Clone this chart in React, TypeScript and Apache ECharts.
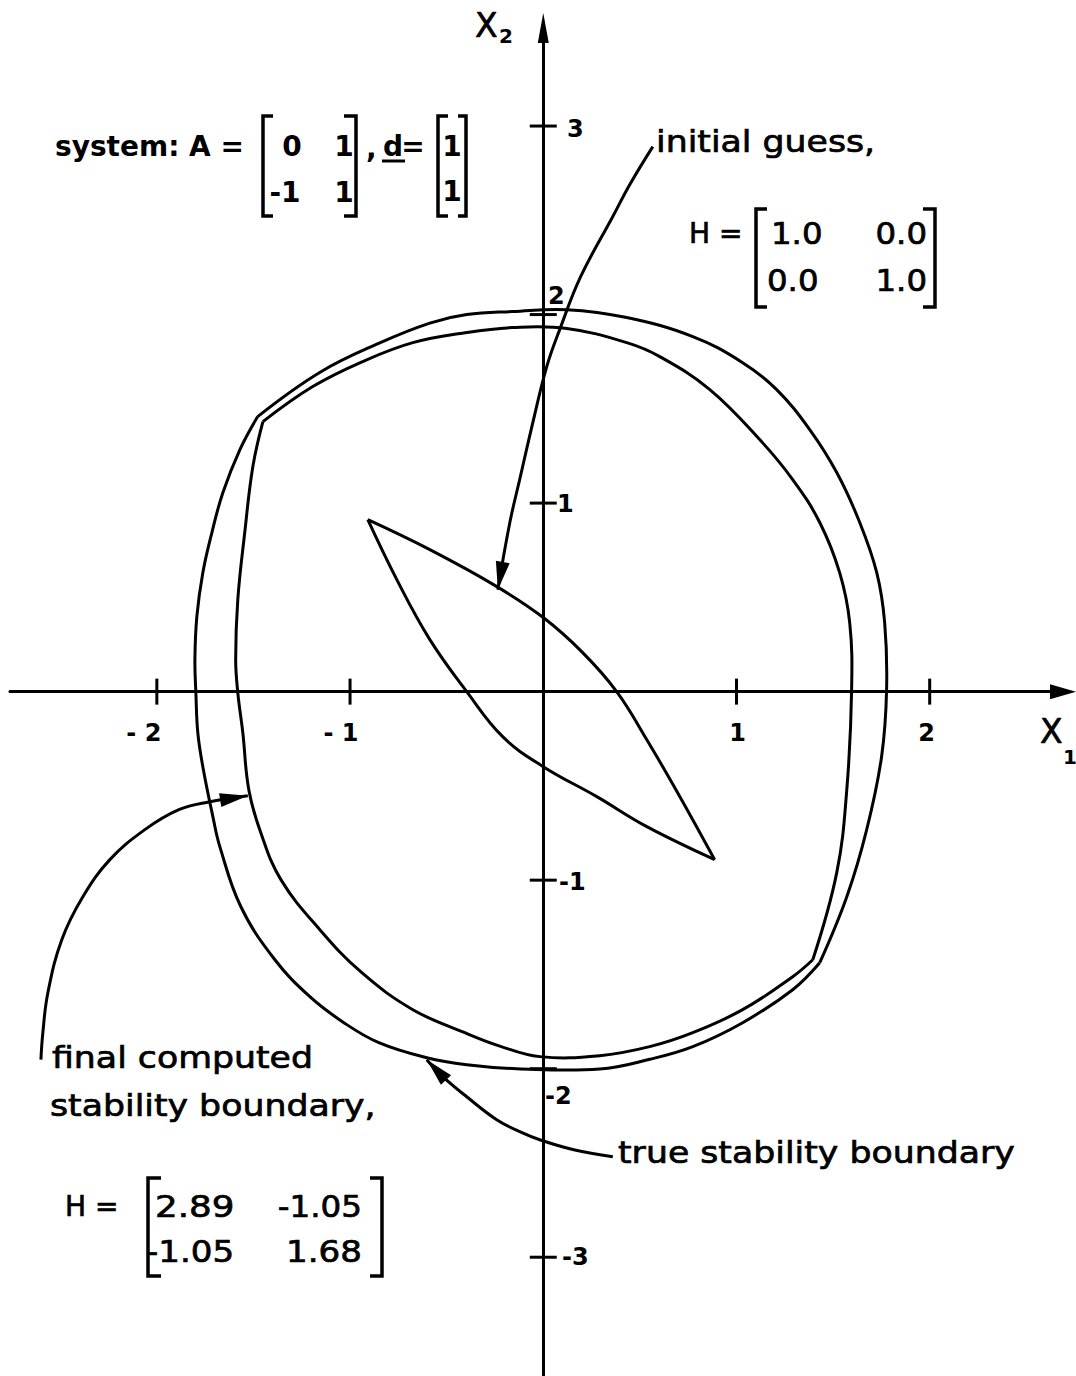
import React, { useEffect, useRef } from "react";
import * as echarts from "echarts";

type Pt = [number, number];

// Axis extents in state-space units
const X_MIN = -2.76;
const X_MAX = 2.69;
const Y_MIN = -3.63;
const Y_MAX = 3.52;

// Tick marks and their labels
const xTicks = [-2, -1, 1, 2];
const xTickLabels = ["- 2", "- 1", "1", "2"];
const yTicks = [3, 2, 1, -1, -2, -3];
const yTickLabels = ["3", "2", "1", "-1", "-2", "-3"];

// True stability boundary, split at its two corners
const trueBoundaryUpper: Pt[] = [
  [1.431, -1.438], [1.571, -1.088], [1.674, -0.732], [1.751, -0.345], [1.777, 0.011],
  [1.767, 0.366], [1.726, 0.631], [1.638, 0.897], [1.519, 1.162], [1.379, 1.39],
  [1.208, 1.602], [1.032, 1.745], [0.774, 1.883], [0.432, 1.984], [0.122, 2.026],
  [-0.158, 2.016], [-0.396, 2.0], [-0.587, 1.955], [-0.846, 1.85], [-1.157, 1.693],
  [-1.478, 1.459],
];
const trueBoundaryLower: Pt[] = [
  [-1.478, 1.459], [-1.57, 1.284], [-1.658, 1.056], [-1.715, 0.844], [-1.762, 0.631],
  [-1.793, 0.398], [-1.803, 0.17], [-1.798, -0.005], [-1.788, -0.218], [-1.762, -0.398],
  [-1.71, -0.663], [-1.674, -0.822], [-1.565, -1.141], [-1.389, -1.422], [-1.208, -1.618],
  [-1.032, -1.756], [-0.851, -1.862], [-0.603, -1.942], [-0.396, -1.979], [-0.137, -2.0],
  [0.292, -2.002], [0.551, -1.95], [0.774, -1.883], [1.032, -1.756], [1.291, -1.581],
  [1.431, -1.438],
];

// Final computed stability boundary, split at its two corners
const computedBoundaryUpper: Pt[] = [
  [1.395, -1.422], [1.519, -0.96], [1.571, -0.52], [1.596, 0.011], [1.586, 0.366],
  [1.534, 0.631], [1.431, 0.897], [1.291, 1.125], [1.12, 1.337], [0.862, 1.602],
  [0.603, 1.777], [0.432, 1.851], [0.122, 1.926], [-0.158, 1.931], [-0.396, 1.905],
  [-0.675, 1.851], [-0.934, 1.751], [-1.193, 1.618], [-1.451, 1.432],
];
const computedBoundaryLower: Pt[] = [
  [-1.451, 1.432], [-1.503, 1.194], [-1.545, 0.844], [-1.581, 0.488], [-1.592, 0.17],
  [-1.581, -0.005], [-1.555, -0.218], [-1.524, -0.52], [-1.462, -0.748], [-1.358, -0.997],
  [-1.156, -1.263], [-0.939, -1.491], [-0.675, -1.687], [-0.406, -1.809], [-0.225, -1.88],
  [-0.018, -1.936], [0.292, -1.931], [0.551, -1.883], [0.774, -1.809], [1.032, -1.687],
  [1.291, -1.512], [1.395, -1.422],
];

// Initial guess region (H = I), two arcs between its corners
const initialGuessUpper: Pt[] = [
  [-0.908, 0.912], [-0.587, 0.753], [-0.24, 0.557], [0, 0.393], [0.204, 0.207],
  [0.38, 0], [0.536, -0.255], [0.707, -0.557], [0.887, -0.891],
];
const initialGuessLower: Pt[] = [
  [-0.908, 0.912], [-0.758, 0.594], [-0.587, 0.276], [-0.396, 0], [-0.21, -0.239],
  [0, -0.398], [0.277, -0.557], [0.536, -0.716], [0.887, -0.891],
];

// Leader arrows (from label to tip)
const initialGuessArrow: Pt[] = [
  [0.567, 2.891], [0.448, 2.69], [0.36, 2.52], [0.194, 2.202], [0.085, 1.92],
  [0.018, 1.724], [-0.054, 1.427], [-0.122, 1.125], [-0.173, 0.897], [-0.235, 0.541],
];
const computedArrow: Pt[] = [
  [-2.6, -1.952], [-2.59, -1.809], [-2.564, -1.597], [-2.492, -1.316], [-2.383, -1.088],
  [-2.243, -0.891], [-2.062, -0.732], [-1.886, -0.626], [-1.726, -0.584], [-1.529, -0.552],
];
const trueArrow: Pt[] = [
  [0.36, -2.467], [0.158, -2.43], [-0.018, -2.377], [-0.122, -2.334], [-0.241, -2.271],
  [-0.396, -2.149], [-0.52, -2.042], [-0.603, -1.952],
];

const INK = "#000";
const FONT = "DejaVu Sans";

// Label placement around each tick (pixels)
const xTickLabelOffsets: Pt[] = [[-13, 41], [-9, 41], [1, 41], [-3, 41]];
const yTickLabelOffsets: Pt[] = [[32, 3], [13, -19], [22, 1], [29, 2], [15, 27], [32, 0]];

// A smooth open curve through the given points, projected with the grid's scales
function curveSeries(name: string, pts: Pt[], width = 3) {
  return {
    type: "custom",
    name,
    coordinateSystem: "cartesian2d",
    silent: true,
    clip: false,
    z: 3,
    encode: { x: 0, y: 1 },
    data: pts,
    renderItem: (params: any, api: any) => {
      if (params.dataIndex !== 0) return;
      const points = pts.map((p) => api.coord(p));
      return {
        type: "polyline",
        shape: { points, smooth: 0.4 },
        style: { stroke: INK, lineWidth: width, fill: "none", lineJoin: "round" },
      };
    },
  };
}

function text(
  str: string,
  x: number,
  y: number,
  size: number,
  opts: { weight?: string; align?: string; stretch?: number } = {}
) {
  const bold = opts.weight === "bold";
  return {
    type: "text",
    x,
    y,
    scaleX: opts.stretch || 1,
    silent: true,
    style: {
      text: str,
      fill: INK,
      stroke: bold ? undefined : INK,
      lineWidth: bold ? 0 : 0.7,
      fontFamily: FONT,
      fontSize: size,
      fontWeight: opts.weight || "normal",
      align: opts.align || "left",
      verticalAlign: "middle",
    },
  };
}

function bracket(x: number, y1: number, y2: number, serif: number) {
  return {
    type: "polyline",
    silent: true,
    shape: {
      points: [
        [x + serif, y1],
        [x, y1],
        [x, y2],
        [x + serif, y2],
      ],
    },
    style: { stroke: INK, lineWidth: 3.5, fill: null },
  };
}

function buildOption() {
  const arrows = [initialGuessArrow, computedArrow, trueArrow];
  const arrowHeads = arrows.map((a) => {
    const p = a[a.length - 2];
    const q = a[a.length - 1];
    return [p[0], p[1], q[0], q[1]];
  });

  const tickLabelStyle = {
    show: true,
    position: "inside",
    color: INK,
    textBorderWidth: 0,
    fontFamily: FONT,
    fontWeight: "bold",
    fontSize: 24,
  };

  const axisCommon = {
    type: "value",
    axisTick: { show: false },
    axisLabel: { show: false },
    splitLine: { show: false },
  };

  const wide = { stretch: 1.12 };
  const num = { stretch: 1.08 };

  return {
    animation: false,
    backgroundColor: "#fff",
    grid: { left: 10, right: 13, top: 28, bottom: 0 },
    xAxis: {
      ...axisCommon,
      min: X_MIN,
      max: X_MAX,
      axisLine: {
        onZero: true,
        symbol: ["none", "triangle"],
        symbolSize: [15, 26],
        lineStyle: { color: INK, width: 3 },
      },
    },
    yAxis: {
      ...axisCommon,
      min: Y_MIN,
      max: Y_MAX,
      axisLine: {
        onZero: true,
        symbol: ["none", "triangle"],
        symbolSize: [11, 30],
        lineStyle: { color: INK, width: 3 },
      },
    },
    series: [
      curveSeries("true stability boundary", trueBoundaryUpper),
      curveSeries("true stability boundary", trueBoundaryLower),
      curveSeries("final computed stability boundary", computedBoundaryUpper),
      curveSeries("final computed stability boundary", computedBoundaryLower),
      curveSeries("initial guess", initialGuessUpper),
      curveSeries("initial guess", initialGuessLower),
      curveSeries("leader", initialGuessArrow),
      curveSeries("leader", computedArrow),
      curveSeries("leader", trueArrow),
      {
        type: "custom",
        coordinateSystem: "cartesian2d",
        silent: true,
        z: 5,
        clip: false,
        encode: { x: [0, 2], y: [1, 3] },
        data: arrowHeads,
        renderItem: (_params: any, api: any) => {
          const p = api.coord([api.value(0), api.value(1)]);
          const q = api.coord([api.value(2), api.value(3)]);
          const dx = q[0] - p[0];
          const dy = q[1] - p[1];
          const len = Math.hypot(dx, dy) || 1;
          const ux = dx / len;
          const uy = dy / len;
          const L = 28;
          const W = 7;
          const bx = q[0] - ux * L;
          const by = q[1] - uy * L;
          return {
            type: "polygon",
            shape: {
              points: [
                [q[0], q[1]],
                [bx - uy * W, by + ux * W],
                [bx + uy * W, by - ux * W],
              ],
            },
            style: { fill: INK },
          };
        },
      },
      {
        type: "scatter",
        silent: true,
        z: 4,
        symbol: "rect",
        symbolSize: [3, 26],
        itemStyle: { color: INK, opacity: 1 },
        data: xTicks.map((v, i) => ({ value: [v, 0], label: { offset: xTickLabelOffsets[i] } })),
        label: { ...tickLabelStyle, formatter: (p: any) => xTickLabels[p.dataIndex] },
      },
      {
        type: "scatter",
        silent: true,
        z: 4,
        symbol: "rect",
        symbolSize: [27, 3],
        itemStyle: { color: INK, opacity: 1 },
        data: yTicks.map((v, i) => ({ value: [0, v], label: { offset: yTickLabelOffsets[i] } })),
        label: { ...tickLabelStyle, formatter: (p: any) => yTickLabels[p.dataIndex] },
      },
    ],
    graphic: [
      // axis names with subscripts
      text("X", 475, 25, 33),
      text("2", 499, 36, 20, { weight: "bold" }),
      text("X", 1040, 731, 33),
      text("1", 1070, 757, 20, { weight: "bold", align: "center" }),
      // system definition
      text("system: A =", 55, 146, 28, { weight: "bold" }),
      bracket(263, 116, 216, 10),
      text("0", 292, 146, 28, { weight: "bold", align: "center" }),
      text("1", 344, 146, 28, { weight: "bold", align: "center" }),
      text("-1", 285, 192, 28, { weight: "bold", align: "center" }),
      text("1", 344, 192, 28, { weight: "bold", align: "center" }),
      bracket(356, 116, 216, -12),
      text(",", 366, 148, 28, { weight: "bold" }),
      text("d", 393, 146, 28, { weight: "bold", align: "center" }),
      {
        type: "line",
        silent: true,
        shape: { x1: 382, y1: 161, x2: 405, y2: 161 },
        style: { stroke: INK, lineWidth: 3 },
      },
      text("=", 413, 146, 28, { weight: "bold", align: "center" }),
      bracket(438, 116, 216, 10),
      text("1", 452, 146, 28, { weight: "bold", align: "center" }),
      text("1", 452, 191, 28, { weight: "bold", align: "center" }),
      bracket(466, 116, 216, -8),
      // initial guess annotation
      text("initial guess,", 656, 141, 31, wide),
      text("H =", 689, 233, 28),
      bracket(756, 209, 307, 11),
      text("1.0", 771, 233, 30, num),
      text("0.0", 927, 233, 30, { align: "right", stretch: 1.08 }),
      text("0.0", 767, 280, 30, num),
      text("1.0", 927, 280, 30, { align: "right", stretch: 1.08 }),
      bracket(935, 209, 307, -12),
      // final computed annotation
      text("final computed", 52, 1057, 31, wide),
      text("stability boundary,", 50, 1105, 31, wide),
      text("H =", 65, 1206, 28),
      bracket(148, 1178, 1276, 13),
      text("2.89", 155, 1206, 31, { stretch: 1.15 }),
      text("-1.05", 362, 1206, 31, { align: "right", stretch: 1.05 }),
      text("-1.05", 146, 1252, 31, { stretch: 1.1 }),
      text("1.68", 362, 1252, 31, { align: "right", stretch: 1.1 }),
      bracket(382, 1178, 1276, -12),
      // true boundary annotation
      text("true stability boundary", 618, 1152, 31, wide),
    ],
  };
}

export default function App() {
  const ref = useRef<HTMLDivElement>(null);
  useEffect(() => {
    document.body.style.margin = "0";
    const chart = echarts.init(ref.current as HTMLDivElement, null, { renderer: "svg" });
    chart.setOption(buildOption() as any);
    return () => chart.dispose();
  }, []);
  return <div ref={ref} style={{ width: 1076, height: 1376 }} />;
}
